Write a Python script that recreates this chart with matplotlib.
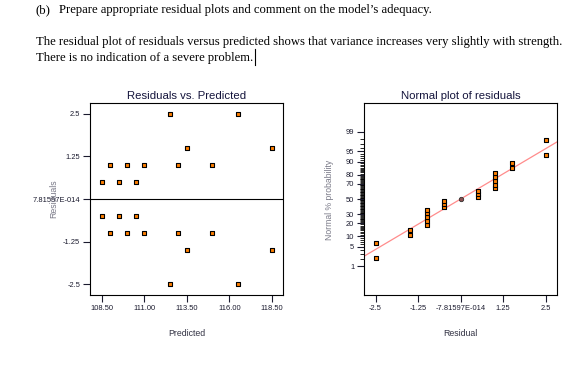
import matplotlib
matplotlib.use('Agg')
import matplotlib.pyplot as plt
import numpy as np
from statistics import NormalDist

# data
predicted = [108.5, 109.0, 109.5, 110.0, 110.5, 111.0, 112.5, 113.0, 113.5, 115.0, 116.5, 118.5,
             108.5, 109.0, 109.5, 110.0, 110.5, 111.0, 112.5, 113.0, 113.5, 115.0, 116.5, 118.5]
residuals = [0.5, 1.0, 0.5, 1.0, 0.5, 1.0, 2.5, 1.0, 1.5, 1.0, 2.5, 1.5,
             -0.5, -1.0, -0.5, -1.0, -0.5, -1.0, -2.5, -1.0, -1.5, -1.0, -2.5, -1.5]

pred_ticks = [108.5, 111.0, 113.5, 116.0, 118.5]
pred_labels = ['108.50', '111.00', '113.50', '116.00', '118.50']
res_ticks = [-2.5, -1.25, 0.0, 1.25, 2.5]
res_labels_left = ['-2.5', '-1.25', '7.81597E-014', '1.25', '2.5']
res_labels_right = ['-2.5', '-1.25', '-7.81597E-014', '1.25', '2.5']
prob_ticks = [1, 5, 10, 20, 30, 50, 70, 80, 90, 95, 99]
prob_minor = list(range(1, 100))

W, H = 574, 367
fig = plt.figure(figsize=(W / 100, H / 100), dpi=100)
plt.rcParams['font.family'] = ['Liberation Sans', 'DejaVu Sans']

def fx(px):
    return px / W

def fy(py):
    return 1 - py / H

orange = '#ff8000'
ndist = NormalDist()

# header text
serif = ['Liberation Serif', 'DejaVu Serif']
fs = 9.1
fig.text(fx(35.5), fy(13.5), '(b)', family=serif, fontsize=fs, va='baseline')
fig.text(fx(59), fy(13.5), "Prepare appropriate residual plots and comment on the model\u2019s adequacy.",
         family=serif, fontsize=fs, va='baseline')
fig.text(fx(35.5), fy(45.5), 'The residual plot of residuals versus predicted shows that variance increases very slightly with strength.',
         family=serif, fontsize=fs, va='baseline')
fig.text(fx(35.5), fy(61), 'There is no indication of a severe problem.', family=serif, fontsize=fs, va='baseline')
fig.add_artist(plt.Line2D([fx(254.5), fx(254.5)], [fy(49), fy(65)], color='black', lw=0.8))

# left: residuals vs predicted
ax1 = fig.add_axes([fx(90), fy(295), fx(193), 192 / H])
ax1.scatter(predicted, residuals, marker='s', s=8, c=orange, edgecolors='black', linewidths=0.8, zorder=3)
ax1.axhline(0, color='black', lw=0.8)
ax1.set_xlim(107.8, 119.15)
ax1.set_ylim(-2.82, 2.82)
ax1.set_xticks(pred_ticks)
ax1.set_xticklabels(pred_labels)
ax1.set_yticks(res_ticks)
ax1.set_yticklabels(res_labels_left)
ax1.tick_params(labelsize=5.4, length=5, width=0.8, pad=2, colors='#1a1a2e')
ax1.set_title('Residuals vs. Predicted', fontsize=8.2, pad=3, color='#14143c')
for s in ax1.spines.values():
    s.set_linewidth(0.8)
fig.text(fx(53.5), fy(199), 'Residuals', rotation=90, fontsize=6.3, color='#7a7a88', ha='center', va='center')
fig.text(fx(186.5), fy(333), 'Predicted', fontsize=6.3, color='#333344', ha='center', va='center')

# right: normal probability plot
ax2 = fig.add_axes([fx(364), fy(295), fx(193), 192 / H])
r_sorted = np.sort(residuals)
n = len(r_sorted)
pcts = [(i + 0.5) / n for i in range(n)]
zs = [ndist.inv_cdf(p) for p in pcts]
ax2.scatter(r_sorted, zs, marker='s', s=12, c=orange, edgecolors='black', linewidths=0.8, zorder=3)
ax2.scatter([0], [0], marker='o', s=10, c='#8c5050', edgecolors='#303030', linewidths=0.6, zorder=4)
xlim = (-2.84, 2.83)
sigma = np.sqrt(np.sum(np.square(residuals)) / (n - 2))
ax2.plot(xlim, [x / sigma for x in xlim], color='#ff8c8c', lw=0.9, zorder=2)
ax2.set_xlim(*xlim)
ax2.set_ylim(-3.31, 3.31)
ax2.set_xticks(res_ticks)
ax2.set_xticklabels(res_labels_right)
ax2.set_yticks([ndist.inv_cdf(p / 100) for p in prob_ticks])
ax2.set_yticklabels([str(p) for p in prob_ticks])
ax2.set_yticks([ndist.inv_cdf(p / 100) for p in prob_minor if p not in prob_ticks], minor=True)
ax2.tick_params(labelsize=5.4, length=5, width=0.8, pad=2, colors='#1a1a2e')
ax2.tick_params(axis='y', which='minor', length=3, width=0.6)
ax2.set_title('Normal plot of residuals', fontsize=8.2, pad=3, color='#14143c')
for s in ax2.spines.values():
    s.set_linewidth(0.8)
fig.text(fx(329), fy(200), 'Normal % probability', rotation=90, fontsize=6.2, color='#7a7a88', ha='center', va='center')
fig.text(fx(460.5), fy(333), 'Residual', fontsize=6.3, color='#333344', ha='center', va='center')

fig.savefig('out.png', dpi=100)
